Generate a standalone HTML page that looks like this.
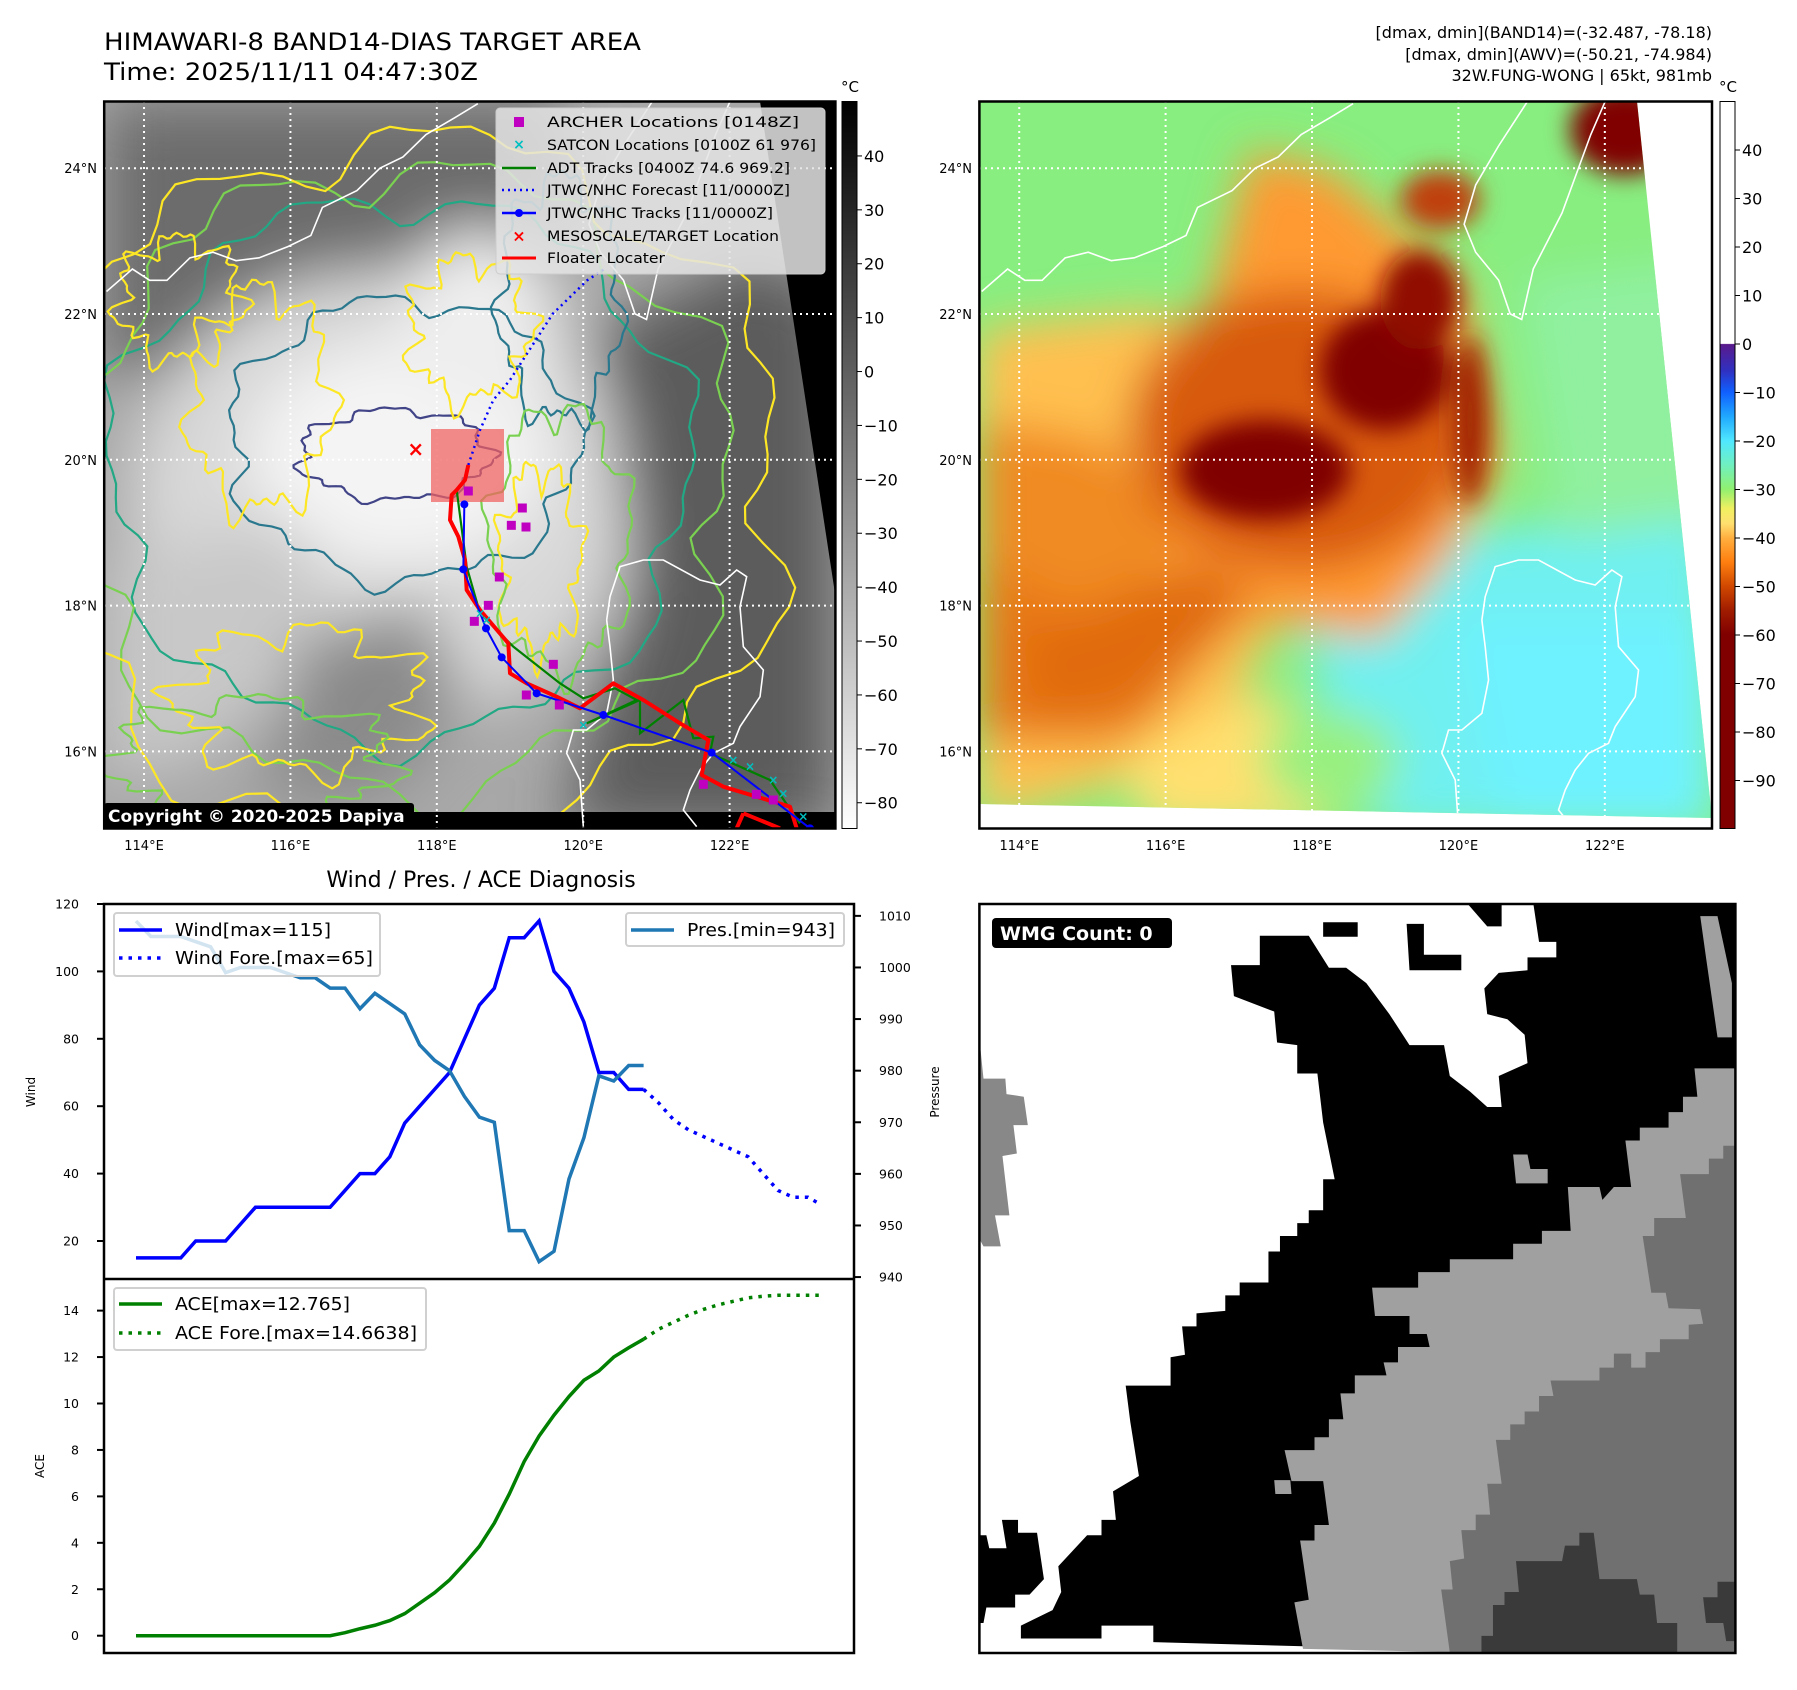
<!DOCTYPE html>
<html><head><meta charset="utf-8"><style>
html,body{margin:0;padding:0;background:#fff}
svg{display:block}
text{font-family:"DejaVu Sans","Liberation Sans",sans-serif}
</style></head><body>
<svg id="s" xmlns="http://www.w3.org/2000/svg" width="1797" height="1690" viewBox="0 0 1797 1690">
<defs>
<filter id="b30" x="-50%" y="-50%" width="200%" height="200%"><feGaussianBlur stdDeviation="30"/></filter>
<filter id="b22" x="-50%" y="-50%" width="200%" height="200%"><feGaussianBlur stdDeviation="22"/></filter>
<filter id="b15" x="-50%" y="-50%" width="200%" height="200%"><feGaussianBlur stdDeviation="12"/></filter>
<clipPath id="clipL"><rect x="104.2" y="101.5" width="731.2" height="727"/></clipPath>
<clipPath id="clipR"><polygon points="979.4,101.5 1637,101.5 1712,818 979.4,804"/></clipPath>
<clipPath id="clipW"><rect x="979.4" y="904" width="756" height="749"/></clipPath>
<linearGradient id="gcb" x1="0" y1="0" x2="0" y2="1"><stop offset="0" stop-color="#000"/><stop offset="1" stop-color="#fff"/></linearGradient>
<linearGradient id="rcb" x1="0" y1="0" x2="0" y2="1">
<stop offset="0" stop-color="#fff"/><stop offset="0.333" stop-color="#fff"/>
<stop offset="0.334" stop-color="#5a1a8c"/><stop offset="0.37" stop-color="#3030c0"/>
<stop offset="0.40" stop-color="#1060ff"/><stop offset="0.433" stop-color="#20a8ff"/>
<stop offset="0.467" stop-color="#50e8ff"/><stop offset="0.50" stop-color="#70f0c0"/>
<stop offset="0.533" stop-color="#90f070"/><stop offset="0.56" stop-color="#f0f060"/>
<stop offset="0.58" stop-color="#ffe070"/><stop offset="0.60" stop-color="#ffb040"/>
<stop offset="0.633" stop-color="#ff8010"/><stop offset="0.667" stop-color="#d04800"/>
<stop offset="0.70" stop-color="#a01c00"/><stop offset="0.733" stop-color="#800000"/><stop offset="1" stop-color="#800000"/>
</linearGradient>
</defs>

<text x="104" y="50" font-size="24" textLength="537" lengthAdjust="spacingAndGlyphs">HIMAWARI-8 BAND14-DIAS TARGET AREA</text>
<text x="104" y="80" font-size="24" textLength="374" lengthAdjust="spacingAndGlyphs">Time: 2025/11/11 04:47:30Z</text>
<text x="1712" y="38" font-size="16" text-anchor="end">[dmax, dmin](BAND14)=(-32.487, -78.18)</text>
<text x="1712" y="60" font-size="16" text-anchor="end">[dmax, dmin](AWV)=(-50.21, -74.984)</text>
<text x="1712" y="81" font-size="16" text-anchor="end">32W.FUNG-WONG | 65kt, 981mb</text>
<text x="481" y="887" font-size="22" text-anchor="middle">Wind / Pres. / ACE Diagnosis</text>

<g id="leftmap" clip-path="url(#clipL)">
<rect x="104" y="101" width="732" height="728" fill="#a8a8a8"/>
<g filter="url(#b30)">
<polygon points="104,101 560,101 560,260 470,300 350,330 250,360 104,380" fill="#6c6c6c"/>
<polygon points="230,330 360,320 390,400 340,480 290,430" fill="#7a7a7a"/>
<ellipse cx="380" cy="500" rx="250" ry="230" fill="#d8d8d8"/>
<ellipse cx="400" cy="455" rx="150" ry="110" fill="#f4f4f4"/>
<ellipse cx="480" cy="320" rx="80" ry="90" fill="#eeeeee"/>
<polygon points="600,330 760,250 835,300 835,830 560,830 600,700 640,600" fill="#5c5c5c"/>
<polygon points="104,560 300,520 330,640 200,760 104,780" fill="#c8c8c8"/>
<polygon points="300,640 420,600 470,700 380,800 260,800" fill="#8a8a8a"/>
</g>
<g id="contours" fill="none" stroke-width="2.2"></g>
<polygon points="760,101.5 836,101.5 836,600" fill="#000"/>
<rect x="104" y="812" width="732" height="17" fill="#000"/>
<g id="coastL" fill="none" stroke="#fff" stroke-width="1.6"></g>
<g id="gridL" stroke="#fff" stroke-width="2" stroke-dasharray="2,4"></g>
<rect x="431" y="429" width="73" height="73" fill="#f06060" fill-opacity="0.72"/>
<g id="tracks"></g>
</g>
<rect x="104.2" y="101.5" width="731.2" height="727" fill="none" stroke="#000" stroke-width="2.5"/>
<rect x="104" y="803" width="310" height="26" rx="3" fill="#000"/>
<text x="108" y="822" font-size="17" font-weight="bold" fill="#fff">Copyright © 2020-2025 Dapiya</text>

<g>
<rect x="496" y="108" width="329" height="166" rx="4" fill="#e4e4e4" fill-opacity="0.85" stroke="#ccc"/>
<rect x="514" y="117" width="10" height="10" fill="#c000c0"/>
<text x="519" y="145" font-size="14" fill="#00c0c0" font-weight="bold" text-anchor="middle" dominant-baseline="central">×</text>
<line x1="502" y1="168" x2="536" y2="168" stroke="#008000" stroke-width="2.5"/>
<line x1="502" y1="190" x2="536" y2="190" stroke="#0000ff" stroke-width="2.5" stroke-dasharray="2,4"/>
<line x1="502" y1="213" x2="536" y2="213" stroke="#0000ff" stroke-width="2.5"/><circle cx="519" cy="213" r="4" fill="#0000ff"/>
<text x="519" y="236" font-size="16" fill="#ff0000" font-weight="bold" text-anchor="middle" dominant-baseline="central">×</text>
<line x1="502" y1="258" x2="536" y2="258" stroke="#ff0000" stroke-width="3"/>
<g font-size="14.5">
<text x="547" y="127" textLength="252" lengthAdjust="spacingAndGlyphs">ARCHER Locations [0148Z]</text>
<text x="547" y="150" textLength="269" lengthAdjust="spacingAndGlyphs">SATCON Locations [0100Z 61 976]</text>
<text x="547" y="173" textLength="243" lengthAdjust="spacingAndGlyphs">ADT Tracks [0400Z 74.6 969.2]</text>
<text x="547" y="195" textLength="243" lengthAdjust="spacingAndGlyphs">JTWC/NHC Forecast [11/0000Z]</text>
<text x="547" y="218" textLength="226" lengthAdjust="spacingAndGlyphs">JTWC/NHC Tracks [11/0000Z]</text>
<text x="547" y="241" textLength="232" lengthAdjust="spacingAndGlyphs">MESOSCALE/TARGET Location</text>
<text x="547" y="263" textLength="118" lengthAdjust="spacingAndGlyphs">Floater Locater</text>
</g></g>

<rect x="842" y="101.5" width="15" height="727" fill="url(#gcb)" stroke="#000" stroke-width="1"/>
<text x="850" y="92" font-size="15" text-anchor="middle">°C</text>
<g id="cbL" font-size="16"></g>

<g>
<g clip-path="url(#clipR)">
<rect x="979" y="101" width="740" height="730" fill="#88ee80"/>
<g filter="url(#b22)">
<polygon points="1300,560 1712,500 1712,830 1380,830 1320,700" fill="#70f0f0"/>
<polygon points="1460,620 1712,620 1712,830 1500,830" fill="#6ef2ff"/>
<polygon points="979,330 1060,320 1150,310 1230,330 1290,600 1200,760 979,820" fill="#ffc050"/>
<polygon points="1120,760 1260,690 1340,760 1320,830 1150,830" fill="#ffe070"/>
<polygon points="1250,150 1330,170 1460,280 1500,460 1450,560 1380,640 1260,620 1170,560 1160,420 1210,300" fill="#ff9a30"/>
<polygon points="979,420 1100,440 1180,520 1140,640 1050,700 979,720" fill="#f08a20"/>
<polygon points="979,560 1100,620 1180,690 1130,740 979,740" fill="#e87818"/>
<ellipse cx="1300" cy="430" rx="170" ry="140" fill="#d85a10"/>
<polygon points="1020,640 1200,560 1260,600 1180,680 1040,720" fill="#e06a10"/>
<polygon points="1520,280 1712,260 1712,520 1560,540" fill="#90f0a0"/>
<ellipse cx="1330" cy="760" rx="70" ry="50" fill="#98f080"/>
</g>
<g filter="url(#b15)">
<ellipse cx="1265" cy="470" rx="85" ry="50" fill="#800000"/>
<ellipse cx="1385" cy="370" rx="65" ry="60" fill="#800000"/>
<ellipse cx="1420" cy="300" rx="40" ry="50" fill="#900800"/>
<ellipse cx="1470" cy="420" rx="18" ry="85" fill="#a02000"/>
<ellipse cx="1625" cy="130" rx="55" ry="45" fill="#800000"/>
<ellipse cx="1440" cy="200" rx="40" ry="30" fill="#c04010"/>
</g>
</g>
<g clip-path="url(#clipR)"><g id="coastR" fill="none" stroke="#fff" stroke-width="1.6"></g></g>
<g id="gridR" stroke="#fff" stroke-width="2" stroke-dasharray="2,4"></g>
<rect x="979.4" y="101.5" width="732.6" height="727" fill="none" stroke="#000" stroke-width="2.5"/>
</g>
<rect x="1720" y="101.5" width="15" height="727" fill="url(#rcb)" stroke="#000" stroke-width="1"/>
<text x="1728" y="92" font-size="15" text-anchor="middle">°C</text>
<g id="cbR" font-size="16"></g>
<g id="ticksL" font-size="13"></g>

<g clip-path="url(#clipW)">
<rect x="979" y="904" width="757" height="750" fill="#fff"/>
<g id="wmg"></g>
</g>
<rect x="979.4" y="904" width="756" height="749" fill="none" stroke="#000" stroke-width="2.5"/>
<rect x="992" y="918" width="180" height="30" rx="4" fill="#000"/>
<text x="1000" y="940" font-size="19" font-weight="bold" fill="#fff">WMG Count: 0</text>

<g id="chart"></g>
</svg>
<script>
const NS="http://www.w3.org/2000/svg";
function mk(p,tag,a){const e=document.createElementNS(NS,tag);for(const k in a)e.setAttribute(k,a[k]);p.appendChild(e);return e;}
const $=id=>document.getElementById(id);

const windVals=[15,15,15,15,20,20,20,25,30,30,30,30,30,30,35,40,40,45,55,60,65,70,80,90,95,110,110,115,100,95,85,70,70,65,65];
const windForeIdx=[34,35,36,37,38,39,40,41,42,43,44,45,45.8];
const windForeVals=[65,61,56,53,51,49,47,45,40,35,33,33,31];
const presVals=[1009,1006,1006,1006,1005,1004,999,1000,1000,1000,999,998,998,996,996,992,995,993,991,985,982,980,975,971,970,949,949,943,945,959,967,979,978,981,981];
const aceVals=[0,0,0,0,0,0,0,0,0,0,0,0,0,0,0.13,0.3,0.45,0.65,0.95,1.4,1.85,2.4,3.1,3.85,4.85,6.1,7.5,8.6,9.5,10.3,11.0,11.4,12.0,12.4,12.77];
const aceForeVals=[12.77,13.2,13.5,13.8,14.05,14.25,14.4,14.55,14.62,14.66,14.66,14.66,14.66];
const windTicks=[20,40,60,80,100,120];
const presTicks=[940,950,960,970,980,990,1000,1010];
const aceTicks=[0,2,4,6,8,10,12,14];

const X=i=>136+14.93*i;
const YW=v=>904+(120-v)*3.37;
const YP=p=>904+(1012.3-p)*5.16;
const YA=a=>1635.7-a*23.22;

const ch=$('chart');
function poly(p,pts,st,name){const e=mk(p,'polyline',{points:pts.map(q=>q.join(',')).join(' '),fill:'none'});for(const k in st)e.setAttribute(k,st[k]);return e;}
mk(ch,'rect',{x:104,y:904,width:750,height:749,fill:'none',stroke:'#000','stroke-width':2.5});
mk(ch,'line',{x1:104,y1:1279,x2:854,y2:1279,stroke:'#000','stroke-width':2.5});
windTicks.forEach(t=>{const y=YW(t);mk(ch,'line',{x1:97,y1:y,x2:104,y2:y,stroke:'#000','stroke-width':2});const e=mk(ch,'text',{x:79,y:y+4.5,'font-size':12.5,'text-anchor':'end'});e.textContent=t;});
presTicks.forEach(t=>{const y=YP(t);mk(ch,'line',{x1:854,y1:y,x2:861,y2:y,stroke:'#000','stroke-width':2});const e=mk(ch,'text',{x:879,y:y+4.5,'font-size':12.5});e.textContent=t;});
aceTicks.forEach(t=>{const y=YA(t);mk(ch,'line',{x1:97,y1:y,x2:104,y2:y,stroke:'#000','stroke-width':2});const e=mk(ch,'text',{x:79,y:y+4.5,'font-size':12.5,'text-anchor':'end'});e.textContent=t;});
let t1=mk(ch,'text',{x:0,y:0,'font-size':12,'text-anchor':'middle',transform:'translate(35,1092) rotate(-90)'});t1.textContent='Wind';

let t2=mk(ch,'text',{x:0,y:0,'font-size':12,'text-anchor':'middle',transform:'translate(44,1466) rotate(-90)'});t2.textContent='ACE';

let t3=mk(ch,'text',{x:0,y:0,'font-size':12,'text-anchor':'middle',transform:'translate(939,1092) rotate(-90)'});t3.textContent='Pressure';

poly(ch,windVals.map((v,i)=>[X(i),YW(v)]),{stroke:'#0000ff','stroke-width':3.5},'wind-line');
poly(ch,windForeIdx.map((x,i)=>[X(x),YW(windForeVals[i])]),{stroke:'#0000ff','stroke-width':3.5,'stroke-dasharray':'3.5,6'},'wind-forecast-line');
poly(ch,presVals.map((v,i)=>[X(i),YP(v)]),{stroke:'#1f77b4','stroke-width':3.5},'pressure-line');
poly(ch,aceVals.map((v,i)=>[X(i),YA(v)]),{stroke:'#008000','stroke-width':3.5},'ace-line');
poly(ch,windForeIdx.map((x,i)=>[X(x),YA(aceForeVals[i])]),{stroke:'#008000','stroke-width':3.5,'stroke-dasharray':'3.5,6'},'ace-forecast-line');
function legend(x,y,w,h,items,name){const g=mk(ch,'g',{});
mk(g,'rect',{x:x,y:y,width:w,height:h,rx:3,fill:'#fff','fill-opacity':0.8,stroke:'#d0d0d0','stroke-width':2});
items.forEach(it=>{mk(g,'line',{x1:it.lx,y1:it.y,x2:it.lx+43,y2:it.y,stroke:it.c,'stroke-width':3.5,'stroke-dasharray':it.d||'none'});const e=mk(g,'text',{x:it.lx+56,y:it.y+6,'font-size':17.5,textLength:it.tl,lengthAdjust:'spacingAndGlyphs'});e.textContent=it.t;});}
legend(114,913,266,63,[{lx:119,y:930,c:'#0000ff',t:'Wind[max=115]',tl:156},{lx:119,y:958,c:'#0000ff',d:'3.5,6',t:'Wind Fore.[max=65]',tl:198}],'wind-legend');
legend(626,913,218,33,[{lx:631,y:930,c:'#1f77b4',t:'Pres.[min=943]',tl:148}],'pressure-legend');
legend(114,1288,312,62,[{lx:119,y:1304,c:'#008000',t:'ACE[max=12.765]',tl:175},{lx:119,y:1333,c:'#008000',d:'3.5,6',t:'ACE Fore.[max=14.6638]',tl:242}],'ace-legend');

const LX=lon=>104.2+(lon-113.456)*73.2;
const LY=lat=>101.5+(24.915-lat)*72.9;
const gl=$('gridL'),gr=$('gridR'),tk=$('ticksL');
[114,116,118,120,122].forEach(lon=>{const x=LX(lon);mk(gl,'line',{x1:x,y1:101,x2:x,y2:829});mk(gr,'line',{x1:x+875.2,y1:101,x2:x+875.2,y2:829});
[0,875.2].forEach(o=>{const e=mk(tk,'text',{x:x+o,y:850,'text-anchor':'middle'});e.textContent=lon+'°E';});});
[16,18,20,22,24].forEach(lat=>{const y=LY(lat);mk(gl,'line',{x1:104,y1:y,x2:836,y2:y});mk(gr,'line',{x1:979,y1:y,x2:1712,y2:y});
[97,972].forEach(x=>{const e=mk(tk,'text',{x:x,y:y+5,'text-anchor':'end'});e.textContent=lat+'°N';});});
const cL=$('cbL');[40,30,20,10,0,-10,-20,-30,-40,-50,-60,-70,-80].forEach(v=>{const y=101.5+(50.1-v)*5.39;mk(cL,'line',{x1:857,y1:y,x2:862,y2:y,stroke:'#000'});const e=mk(cL,'text',{x:864,y:y+6});e.textContent=String(v).replace('-','−');});
const cR=$('cbR');[40,30,20,10,0,-10,-20,-30,-40,-50,-60,-70,-80,-90].forEach(v=>{const y=101.5+(50-v)*4.85;mk(cR,'line',{x1:1735,y1:y,x2:1740,y2:y,stroke:'#000'});const e=mk(cR,'text',{x:1742,y:y+6});e.textContent=String(v).replace('-','−');});

const z2=(x,y)=>[x/1.737,y/1.784];
const z9=(x,y)=>[380+x/3,380+y/3];
const coasts=[
 [[185,520],[230,480],[260,500],[290,500],[330,460],[370,450],[410,465],[450,460],[500,440],[540,420],[560,370],[620,340],[660,300],[700,280],[740,240],[790,210],[830,185]].map(p=>z2(...p)),
 [[1133,181],[1083,260],[1043,330],[1023,400],[1043,450],[1083,500],[1103,560],[1123,570],[1143,480],[1193,380],[1243,240],[1268,181]].map(p=>z2(...p)),
 [[680,720],[690,650],[720,560],[790,540],[850,540],[960,600],[1020,615],[1070,570],[1100,590],[1080,680],[1090,800],[1150,870],[1140,950],[1080,1040],[1060,1090],[1000,1120],[960,1170],[930,1230],[910,1290],[950,1340]].map(p=>z9(...p)),
 [[680,720],[690,800],[700,900],[680,1000],[620,1050],[580,1050],[560,1120],[600,1200],[610,1340]].map(p=>z9(...p))
];
coasts.forEach(c=>{const s=c.map(q=>q.join(',')).join(' ');mk($('coastL'),'polyline',{points:s});mk($('coastR'),'polyline',{points:c.map(q=>(q[0]+875.2)+','+q[1]).join(' ')});});

const cg=$('contours');
function ring(cx,cy,rx,ry,col,seed,amp){let d='';for(let k=0;k<=120;k++){const a=k/120*Math.PI*2;const r=1+amp*(Math.sin(a*7+seed)*0.5+Math.sin(a*13+seed*2)*0.3+Math.sin(a*23+seed*3)*0.2);const x=cx+rx*r*Math.cos(a),y=cy+ry*r*Math.sin(a);d+=(k?'L':'M')+x.toFixed(1)+','+y.toFixed(1);}mk(cg,'path',{d:d+'Z',stroke:col});}
ring(395,455,95,45,'#414487',1,0.15);
ring(405,440,175,140,'#2a788e',2,0.12);
ring(400,470,290,270,'#22a884',3,0.1);
ring(400,480,330,310,'#7ad151',4,0.12);
ring(410,490,370,350,'#fde725',5,0.12);
ring(560,300,60,120,'#2a788e',6,0.2);
ring(260,400,70,110,'#fde725',7,0.25);
ring(470,330,60,70,'#fde725',8,0.3);
ring(540,560,40,90,'#fde725',9,0.3);
ring(560,540,70,130,'#7ad151',10,0.2);
ring(300,700,120,70,'#fde725',11,0.3);
ring(250,760,140,60,'#7ad151',12,0.25);
ring(180,300,60,60,'#fde725',13,0.3);

const tg=$('tracks');
const floater=[[265,255],[255,300],[230,330],[215,345],[210,420],[235,470],[255,540],[260,630],[300,690],[385,790],[390,880],[440,910],[530,950],[600,985],[700,910],[790,960],[900,1030],[985,1080],[965,1185],[1030,1220],[1230,1280],[1250,1345]].map(p=>z9(...p));
const adt=[[230,330],[260,560],[300,700],[400,800],[540,910],[610,955],[705,925],[770,960],[620,1030],[780,960],[780,1060],[910,960],[940,1075],[1000,1070],[990,1120],[1170,1200],[1260,1330]].map(p=>z9(...p));
const jtwc=[[253,373],[250,568],[318,745],[365,832],[470,940],[670,1005],[995,1118],[1290,1345]].map(p=>z9(...p));
const archer=[[265,333],[427,384],[394,436],[438,441],[358,591],[325,676],[283,724],[520,853],[439,945],[538,975],[970,1213],[1129,1243],[1180,1260]].map(p=>z9(...p));
const satcon=[[1060,1140],[1110,1160],[1180,1200],[1210,1240],[1270,1310],[610,1035],[300,700],[320,720]].map(p=>z9(...p));
poly(tg,[z9(265,255),z9(300,150),z9(340,60),z9(390,0),z2(960,560),z2(1020,500),z2(1050,480)],{stroke:'#0000ff','stroke-width':2.5,'stroke-dasharray':'2,4'},'jtwc-forecast-track');
poly(tg,adt,{stroke:'#008000','stroke-width':2.2},'adt-track');
poly(tg,floater,{stroke:'#ff0000','stroke-width':4,'stroke-linejoin':'round'},'floater-track');
poly(tg,[z9(1090,1300),z9(1070,1345)],{stroke:'#ff0000','stroke-width':4},'floater-track-2');
poly(tg,[z9(1090,1300),z9(1200,1345)],{stroke:'#ff0000','stroke-width':4},'floater-track-3');
poly(tg,jtwc,{stroke:'#0000ff','stroke-width':2},'jtwc-track');
jtwc.forEach(p=>{const c=mk(tg,'circle',{cx:p[0],cy:p[1],r:4,fill:'#0000ff'});});
archer.forEach(p=>{const r=mk(tg,'rect',{x:p[0]-4.5,y:p[1]-4.5,width:9,height:9,fill:'#c000c0'});});
satcon.forEach(p=>{const t=mk(tg,'text',{x:p[0],y:p[1]+4,'font-size':12,'font-weight':'bold',fill:'#00c0c0','text-anchor':'middle'});t.textContent='×';});
const mx=mk(tg,'text',{x:415.7,y:456,'font-size':20,'font-weight':'bold',fill:'#ff0000','text-anchor':'middle'});mx.textContent='×';


const w6=(x,y)=>[900+x/1.737,880+(y-45)/1.938+23.2];
const wg=$('wmg');
function wp(pts,col,name){const e=mk(wg,'polygon',{points:pts.map(p=>w6(p[0],p[1]).join(',')).join(' '),fill:col});}
wp([[575,165],[625,165],[625,108],[710,108],[745,170],[775,170],[810,200],[850,260],[885,320],[945,320],[955,380],[990,410],[1020,440],[1045,440],[1040,380],[1090,355],[1085,300],[1055,270],[1020,260],[1015,210],[1040,180],[1090,175],[1090,150],[1140,150],[1140,120],[1110,120],[1100,45],[1460,45],[1460,1510],[700,1485],[440,1477],[440,1445],[350,1445],[350,1470],[210,1470],[210,1445],[265,1415],[280,1380],[275,1330],[300,1300],[325,1270],[350,1270],[350,1240],[375,1240],[370,1185],[415,1155],[400,1050],[392,980],[470,980],[470,925],[495,920],[490,865],[515,865],[515,840],[565,835],[565,805],[590,805],[590,780],[640,780],[640,720],[660,720],[660,690],[690,690],[690,665],[710,665],[710,640],[735,640],[735,580],[755,580],[745,525],[735,470],[725,375],[690,375],[690,320],[655,315],[650,255],[580,225]],'#000','wmg-black');
wp([[138,1270],[150,1270],[155,1295],[185,1295],[177,1240],[205,1240],[205,1265],[238,1265],[250,1355],[225,1385],[200,1385],[200,1410],[150,1410],[145,1440],[130,1440],[130,1270]],'#000','wmg-black-sw');
wp([[985,45],[1045,45],[1045,90],[1020,90]],'#000','wmg-black-top');
wp([[735,82],[795,82],[795,110],[735,110]],'#000','wmg-black-bit');
wp([[880,85],[910,85],[910,145],[975,145],[975,175],[885,175]],'#000','wmg-black-l');
wp([[1390,70],[1420,70],[1445,200],[1445,305],[1420,305],[1400,150]],'#a0a0a0','wmg-gray-strip');
wp([[140,330],[145,385],[183,385],[185,415],[215,420],[222,475],[197,475],[203,530],[178,535],[190,650],[165,650],[175,710],[145,710],[130,680],[130,330]],'#888888','wmg-gray-left');
wp([[820,790],[900,790],[900,760],[955,760],[955,735],[1065,735],[1065,705],[1115,705],[1115,680],[1165,680],[1160,595],[1215,595],[1220,620],[1240,595],[1270,595],[1260,505],[1285,505],[1285,480],[1335,480],[1335,450],[1360,450],[1360,420],[1385,420],[1380,365],[1460,365],[1460,1510],[700,1490],[685,1400],[710,1395],[695,1280],[720,1280],[720,1250],[745,1250],[735,1165],[680,1165],[668,1105],[720,1105],[720,1080],[745,1080],[745,1045],[770,1045],[765,995],[790,995],[790,960],[845,960],[840,935],[865,935],[865,905],[920,905],[915,880],[885,880],[885,845],[825,845]],'#a0a0a0','wmg-lightgray');
wp([[1065,532],[1090,532],[1095,560],[1125,560],[1125,588],[1070,588]],'#a0a0a0','wmg-lightgray-bit');
wp([[650,1163],[678,1163],[680,1190],[652,1190]],'#a0a0a0','wmg-lightgray-bit2');
wp([[1035,1085],[1060,1085],[1060,1055],[1085,1055],[1085,1030],[1110,1030],[1110,1000],[1135,1000],[1130,970],[1215,970],[1215,945],[1240,945],[1240,918],[1270,918],[1270,945],[1295,945],[1295,915],[1320,915],[1320,890],[1370,890],[1370,862],[1395,860],[1390,832],[1335,830],[1330,800],[1305,800],[1290,690],[1310,690],[1310,655],[1365,655],[1355,570],[1405,570],[1405,540],[1430,540],[1430,515],[1460,515],[1460,1510],[955,1497],[940,1375],[960,1375],[955,1320],[980,1315],[975,1260],[1000,1260],[1000,1230],[1025,1230],[1020,1170],[1045,1170]],'#707070','wmg-midgray');
wp([[1010,1510],[1010,1465],[1030,1465],[1030,1405],[1050,1405],[1050,1380],[1075,1380],[1070,1320],[1150,1320],[1155,1290],[1180,1290],[1180,1265],[1205,1265],[1215,1355],[1280,1355],[1285,1385],[1310,1385],[1315,1440],[1350,1440],[1350,1510]],'#3a3a3a','wmg-darkgray');
wp([[1395,1390],[1420,1390],[1420,1360],[1460,1360],[1460,1475],[1435,1475],[1430,1440],[1400,1440]],'#3a3a3a','wmg-darkgray-2');
</script>
</body></html>
